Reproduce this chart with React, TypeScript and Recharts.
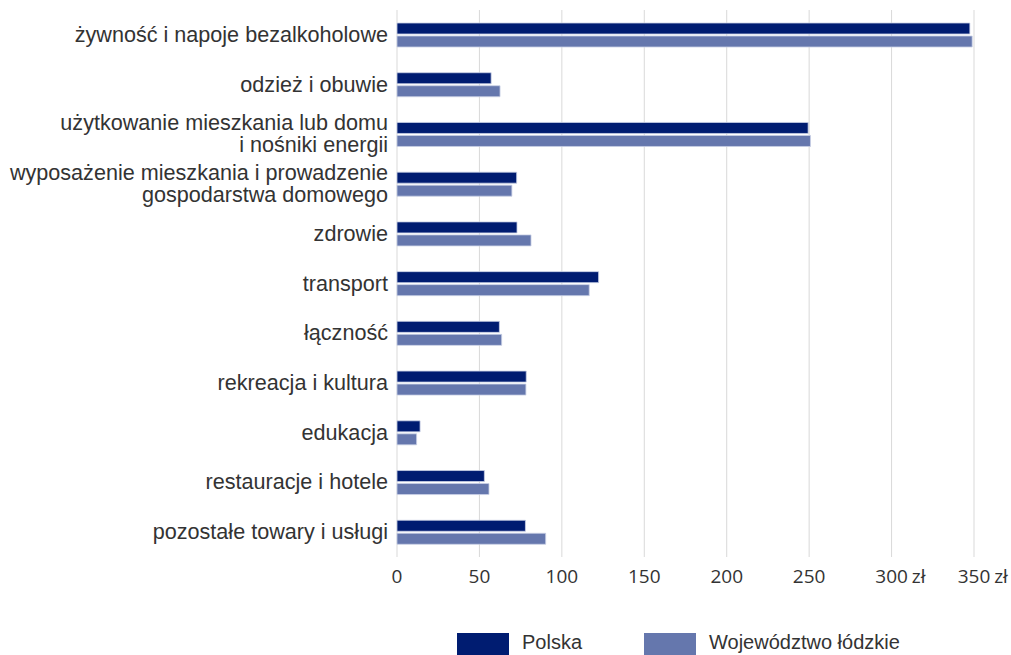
import { BarChart, Bar, CartesianGrid, XAxis, YAxis } from "recharts";

document.body.style.margin = "0";

const categories = [
    "żywność i napoje bezalkoholowe",
    "odzież i obuwie",
    "użytkowanie mieszkania lub domu|i nośniki energii",
    "wyposażenie mieszkania i prowadzenie|gospodarstwa domowego",
    "zdrowie",
    "transport",
    "łączność",
    "rekreacja i kultura",
    "edukacja",
    "restauracje i hotele",
    "pozostałe towary i usługi",
];
const polska = [347.5, 57.1, 249.4, 72.6, 72.8, 122.3, 62.1, 78.4, 14.0, 53.0, 77.9];
const lodzkie = [348.9, 62.5, 250.8, 69.7, 81.3, 116.6, 63.5, 78.2, 11.9, 55.8, 90.2];
const xTicks = [0, 50, 100, 150, 200, 250, 300, 350];
const seriesNames = ["Polska", "Województwo łódzkie"];

const data = categories.map((name, i) => ({
    name,
    polska: polska[i],
    lodzkie: lodzkie[i],
}));

const DARK = "#001c71";
const LIGHT = "#6577ad";
const FONT = "Liberation Sans, Arial, sans-serif";

function CategoryTick(props: any) {
    const { y, payload } = props;
    const lines: string[] = String(payload.value).split("|");
    const lh = 22;
    const start = -((lines.length - 1) * lh) / 2;
    return (
        <text x={388} y={y} textAnchor="end" fontFamily={FONT} fontSize={21.6} fill="#333">
            {lines.map((l, i) => (
                <tspan key={i} x={388} dy={i === 0 ? start + 7 : lh}>
                    {l}
                </tspan>
            ))}
        </text>
    );
}

function ValueTick(props: any) {
    const { x, y, payload } = props;
    const v = payload.value as number;
    const digits = String(v).length;
    const half = digits * 5.4;
    return (
        <g>
            <text x={x} y={y + 18} textAnchor="middle" fontFamily="Open Sans, sans-serif" fontSize={19} fill="#333">
                {v}
            </text>
            {v >= 300 && (
                <text x={x + half + 4} y={y + 18} textAnchor="start" fontFamily="Open Sans, sans-serif" fontSize={19} fill="#333">
                    zł
                </text>
            )}
        </g>
    );
}

function ChartLegend() {
    const items = [
        { label: seriesNames[0], color: DARK, x: 457, tx: 522 },
        { label: seriesNames[1], color: LIGHT, x: 644, tx: 709 },
    ];
    return (
        <>
            {items.map((it) => (
                <div key={it.label}>
                    <div
                        style={{
                            position: "absolute",
                            left: it.x,
                            top: 633,
                            width: 52,
                            height: 22,
                            background: it.color,
                        }}
                    />
                    <div
                        style={{
                            position: "absolute",
                            left: it.tx,
                            top: 631,
                            fontFamily: FONT,
                            fontSize: 20,
                            lineHeight: "22px",
                            color: "#333",
                            whiteSpace: "nowrap",
                        }}
                    >
                        {it.label}
                    </div>
                </div>
            ))}
        </>
    );
}

export default function App() {
    return (
        <div style={{ position: "relative", width: 1011, height: 655, overflow: "hidden" }}>
            <BarChart
                width={1011}
                height={655}
                data={data}
                layout="vertical"
                margin={{ top: 10, right: 37, bottom: 68, left: 0 }}
                barSize={11}
                barGap={2}
            >
                <CartesianGrid horizontal={false} stroke="#d9d9d9" />
                <XAxis
                    type="number"
                    domain={[0, 350]}
                    ticks={xTicks}
                    axisLine={false}
                    tickLine={false}
                    height={30}
                    tick={<ValueTick />}
                />
                <YAxis
                    type="category"
                    dataKey="name"
                    width={397}
                    axisLine={false}
                    tickLine={false}
                    tick={<CategoryTick />}
                    interval={0}
                />
                <Bar dataKey="polska" name={seriesNames[0]} fill={DARK} stroke="#c9d0e6" strokeWidth={0.8} isAnimationActive={false} />
                <Bar dataKey="lodzkie" name={seriesNames[1]} fill={LIGHT} stroke="#c9d0e6" strokeWidth={0.8} isAnimationActive={false} />
            </BarChart>
            <ChartLegend />
        </div>
    );
}
